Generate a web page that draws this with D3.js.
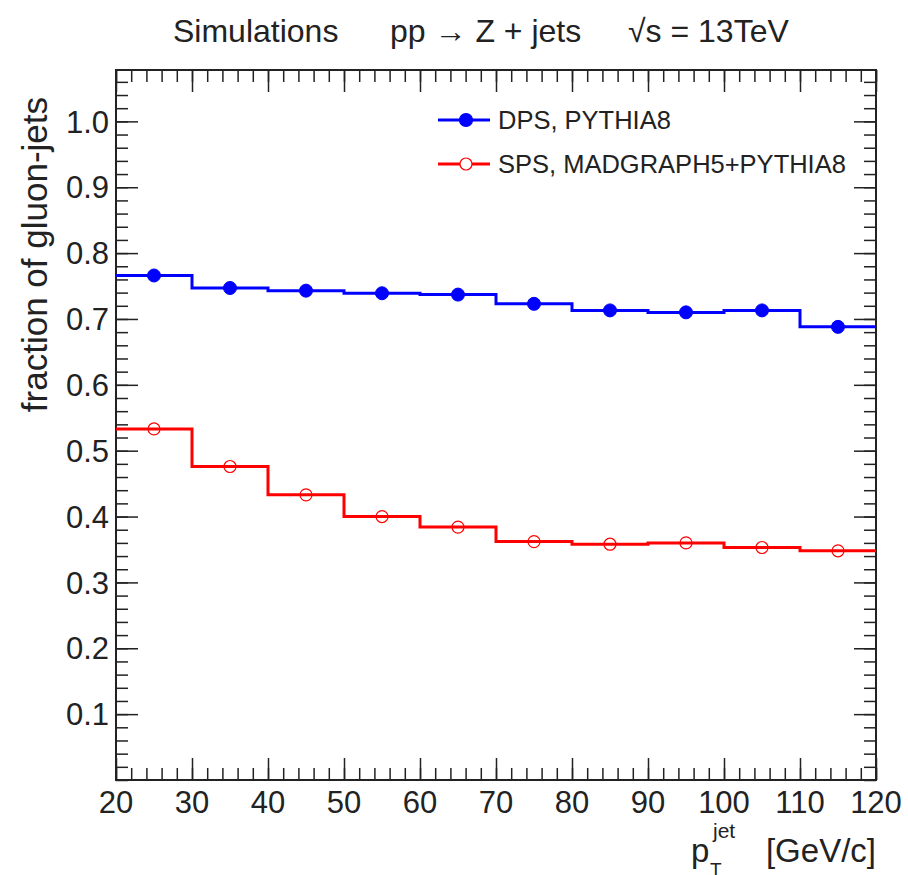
<!DOCTYPE html>
<html>
<head>
<meta charset="utf-8">
<script src="https://cdn.jsdelivr.net/npm/d3@7"></script>
<style>
  body { margin: 0; background: #fff; }
  text { font-family: "Liberation Sans", Arial, sans-serif; fill: #222; }
</style>
</head>
<body>
<div id="chart"></div>
<script>
// bins in pT (GeV/c), one value per bin
const binEdges = [20, 30, 40, 50, 60, 70, 80, 90, 100, 110, 120];
const dpsFraction = [0.766, 0.747, 0.743, 0.739, 0.737, 0.723, 0.713, 0.710, 0.713, 0.688];
const spsFraction = [0.533, 0.476, 0.433, 0.400, 0.384, 0.362, 0.358, 0.360, 0.353, 0.348];
const xTicks = [20, 30, 40, 50, 60, 70, 80, 90, 100, 110, 120];
const yTicks = [0.1, 0.2, 0.3, 0.4, 0.5, 0.6, 0.7, 0.8, 0.9, 1.0];
const legendLabels = ["DPS, PYTHIA8", "SPS, MADGRAPH5+PYTHIA8"];

const width = 908, height = 875;
const padL = 116, padR = 876, padT = 70, padB = 780;

const svg = d3.select("#chart").append("svg")
  .attr("width", width)
  .attr("height", height);

const x = d3.scaleLinear().domain([20, 120]).range([padL, padR]);
const y = d3.scaleLinear().domain([0, 1.078]).range([padB, padT]);

const xMinor = d3.range(20, 120.01, 2);
const yMinor = d3.range(0, 1.07, 0.02);

// ticks on all four sides, pointing inward
function ticksAxis(axis, pos, values, size) {
  const g = svg.append("g")
    .attr("transform", pos)
    .call(axis.tickValues(values).tickSize(size).tickSizeOuter(0).tickFormat(""));
  g.select(".domain").remove();
  g.selectAll("line").attr("stroke", "#222").attr("stroke-width", 1.5);
  return g;
}
ticksAxis(d3.axisBottom(x), `translate(0,${padB})`, xMinor, -12);
ticksAxis(d3.axisBottom(x), `translate(0,${padB})`, xTicks, -22);
ticksAxis(d3.axisTop(x), `translate(0,${padT})`, xMinor, -12);
ticksAxis(d3.axisTop(x), `translate(0,${padT})`, xTicks, -22);
ticksAxis(d3.axisLeft(y), `translate(${padL},0)`, yMinor, -12);
ticksAxis(d3.axisLeft(y), `translate(${padL},0)`, yTicks, -22);
ticksAxis(d3.axisRight(y), `translate(${padR},0)`, yMinor, -12);
ticksAxis(d3.axisRight(y), `translate(${padR},0)`, yTicks, -22);

// frame
svg.append("rect")
  .attr("x", padL).attr("y", padT)
  .attr("width", padR - padL).attr("height", padB - padT)
  .attr("fill", "none").attr("stroke", "#222").attr("stroke-width", 2);

// tick labels
svg.append("g").selectAll("text")
  .data(xTicks).enter().append("text")
  .attr("x", d => x(d))
  .attr("y", padB + 33)
  .attr("text-anchor", "middle")
  .style("font-size", "31px")
  .text(d => d);

svg.append("g").selectAll("text")
  .data(yTicks).enter().append("text")
  .attr("x", padL - 7)
  .attr("y", d => y(d))
  .attr("dy", "0.36em")
  .attr("text-anchor", "end")
  .style("font-size", "31px")
  .text(d => d.toFixed(1));

// axis titles
svg.append("text")
  .attr("x", padR).attr("y", 862)
  .attr("text-anchor", "end")
  .style("font-size", "33px")
  .text("[GeV/c]");
svg.append("text")
  .attr("x", 691).attr("y", 862)
  .style("font-size", "33px")
  .text("p");
svg.append("text")
  .attr("x", 713).attr("y", 838)
  .style("font-size", "21px")
  .text("jet");
svg.append("text")
  .attr("x", 710).attr("y", 876)
  .style("font-size", "19px")
  .text("T");

svg.append("text")
  .attr("transform", `translate(47,${padT + 27}) rotate(-90)`)
  .attr("text-anchor", "end")
  .style("font-size", "35px")
  .text("fraction of gluon-jets");

// title
svg.append("text").attr("x", 173).attr("y", 42).style("font-size", "32px").text("Simulations");
svg.append("text").attr("x", 390).attr("y", 42).style("font-size", "32px").text("pp \u2192 Z + jets");
svg.append("text").attr("x", 628).attr("y", 42).style("font-size", "32px").text("\u221As = 13TeV");

// histograms
function steps(vals) {
  const pts = [];
  vals.forEach((v, i) => {
    pts.push([binEdges[i], v]);
    pts.push([binEdges[i + 1], v]);
  });
  return pts;
}
const line = d3.line().x(d => x(d[0])).y(d => y(d[1]));

const series = [
  { vals: dpsFraction, color: "#0000ff", filled: true },
  { vals: spsFraction, color: "#ff0000", filled: false }
];

series.forEach(s => {
  svg.append("path")
    .attr("d", line(steps(s.vals)))
    .attr("fill", "none")
    .attr("stroke", s.color)
    .attr("stroke-width", 3);
  svg.append("g").selectAll("circle")
    .data(s.vals).enter().append("circle")
    .attr("cx", (d, i) => x((binEdges[i] + binEdges[i + 1]) / 2))
    .attr("cy", d => y(d))
    .attr("r", s.filled ? 6.5 : 6)
    .attr("fill", s.filled ? s.color : "none")
    .attr("stroke", s.color)
    .attr("stroke-width", s.filled ? 1 : 1.2);
});

// legend
const legend = svg.append("g").selectAll("g")
  .data(legendLabels).enter().append("g")
  .attr("transform", (d, i) => `translate(0,${120 + i * 44})`);
legend.append("line")
  .attr("x1", 438).attr("x2", 490)
  .attr("stroke", (d, i) => series[i].color)
  .attr("stroke-width", 3);
legend.append("circle")
  .attr("cx", 466).attr("r", (d, i) => series[i].filled ? 6.5 : 6)
  .attr("fill", (d, i) => series[i].filled ? series[i].color : "#fff")
  .attr("stroke", (d, i) => series[i].color)
  .attr("stroke-width", 1.2);
legend.append("text")
  .attr("x", 498)
  .attr("dy", "0.36em")
  .style("font-size", "25.5px")
  .text(d => d);
</script>
</body>
</html>
